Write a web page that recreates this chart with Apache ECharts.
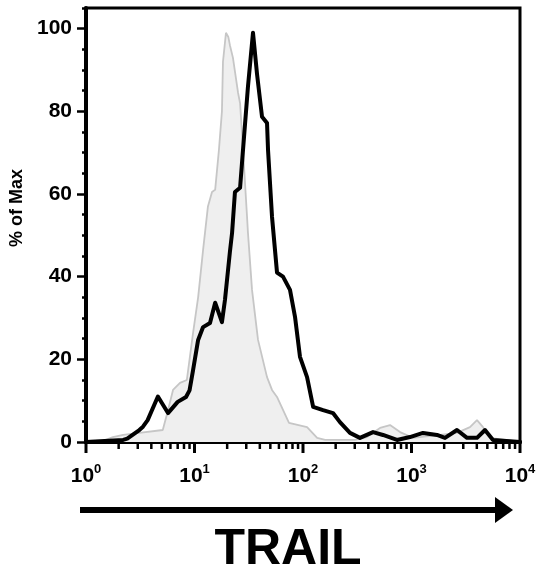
<!DOCTYPE html>
<html>
<head>
    <meta charset="utf-8">
    <title>TRAIL histogram</title>
    <script src="https://cdn.jsdelivr.net/npm/echarts@6/dist/echarts.min.js"></script>
    <style>
        html, body { margin: 0; padding: 0; background: #fff; }
    </style>
</head>
<body>
<div id="main" style="width: 544px;height:577px;"></div>
<script type="text/javascript">
    // fluorescence value, % of max
    var controlData = [
        [1, 0], [1.35, 0], [1.77, 1.2], [2.2, 1.7], [3.1, 2.2], [5.1, 2.9], [5.7, 7.7],
        [6.34, 12.6], [7.35, 14.3], [8.5, 15], [9.7, 26.4], [10.8, 35], [12, 46.5],
        [13.3, 57], [14.5, 60.5], [15.5, 61], [16.8, 70.7], [17.9, 80], [18.3, 92],
        [19.5, 99], [20.5, 98], [21.2, 96], [22.6, 93], [25.2, 84.5], [26.3, 82],
        [28, 70.7], [30.5, 54.5], [31.1, 50.6], [33.9, 36.8], [38.5, 24.7], [46.6, 15.7],
        [51.8, 12.6], [57.6, 10.9], [74.3, 4.6], [109, 3.6], [135, 1], [160, 0.5],
        [300, 0.5], [389, 1.2], [513, 3.4], [634, 4.1], [784, 2.4], [1032, 1],
        [1832, 1.7], [2625, 2.2], [3458, 3.6], [4015, 5.3], [4560, 3.6], [5290, 1], [10000, 0]
    ];
    var trailData = [
        [1, 0], [2.2, 0.5], [2.4, 0.8], [3.1, 2.9], [3.35, 3.7], [3.7, 5.3], [4.6, 11],
        [5.7, 7], [7, 9.7], [8.35, 10.9], [9, 12.5], [9.7, 17.4], [10.8, 24.7], [12, 27.8],
        [13.9, 28.8], [15.5, 33.7], [17.9, 29], [19.1, 34.4], [21.2, 46], [22.2, 50.6],
        [23.6, 60.5], [26.3, 61.5], [28, 70.7], [31.1, 86], [34.6, 99], [37.7, 89],
        [41.9, 78.7], [46.6, 77.2], [47.6, 70.7], [51.8, 54.5], [57.6, 41], [65.4, 40],
        [75.9, 36.8], [84.4, 30.3], [93.8, 20.6], [109, 15.7], [124, 8.5], [153, 7.7],
        [189, 7], [219, 4.8], [271, 2.2], [335, 1], [442, 2.4], [546, 1.7], [735, 0.5],
        [968, 1.2], [1276, 2.2], [1718, 1.7], [2036, 1], [2625, 2.9], [3250, 1],
        [4015, 1], [4755, 2.9], [5640, 0.5], [10000, 0]
    ];
    var xMajorTicks = [1, 10, 100, 1000, 10000];
    var xMinorTicks = [2, 3, 4, 5, 6, 7, 8, 9, 20, 30, 40, 50, 60, 70, 80, 90,
        200, 300, 400, 500, 600, 700, 800, 900, 2000, 3000, 4000, 5000, 6000, 7000, 8000, 9000];
    var yMajorTicks = [0, 20, 40, 60, 80, 100];
    var yMinorTicks = [5, 10, 15, 25, 30, 35, 45, 50, 55, 65, 70, 75, 85, 90, 95, 105];

    var font = '"Liberation Sans", Arial, sans-serif';
    var rect = { left: 86, top: 8, right: 24, bottom: 135 };
    var W = 544, H = 577;
    var chart = echarts.init(document.getElementById('main'));

    var decor = [{
        type: 'rect', shape: { x: 80, y: 507, width: 417, height: 6 },
        style: { fill: '#000' }
    }, {
        type: 'polygon', shape: { points: [[495, 497], [513, 510], [495, 523]] },
        style: { fill: '#000' }
    }, {
        type: 'text', x: 288, y: 550,
        style: {
            text: 'TRAIL', fill: '#000', font: 'bold 50px ' + font,
            textAlign: 'center', textVerticalAlign: 'middle'
        }
    }];

    chart.setOption({
        animation: false,
        grid: [
            Object.assign({ show: true, borderColor: '#000', borderWidth: 3 }, rect),
            Object.assign({}, rect)
        ],
        xAxis: [{
            gridIndex: 0,
            type: 'log', logBase: 10, min: 1, max: 10000, position: 'bottom',
            axisLine: { onZero: false, lineStyle: { color: '#000', width: 4 } },
            axisTick: { show: false },
            axisLabel: {
                customValues: xMajorTicks, margin: 21,
                formatter: function (v) {
                    return '{b|10}{s|' + Math.round(Math.log10(v)) + '}';
                },
                rich: {
                    b: { fontFamily: font, fontWeight: 'bold', fontSize: 21, color: '#000', lineHeight: 24, verticalAlign: 'bottom' },
                    s: { fontFamily: font, fontWeight: 'bold', fontSize: 13, color: '#000', lineHeight: 24, verticalAlign: 'top', padding: [0, 0, 12, 0] }
                }
            },
            splitLine: { show: false }
        }, {
            gridIndex: 1, type: 'value', min: 0, max: 4, show: false
        }],
        yAxis: [{
            gridIndex: 0,
            type: 'value', min: 0, max: 105,
            name: '% of Max', nameLocation: 'middle', nameGap: 58,
            nameTextStyle: { fontFamily: font, fontWeight: 'bold', fontSize: 18, color: '#000', padding: [0, 0, 0, 34] },
            axisLine: { show: true, lineStyle: { color: '#000', width: 4 } },
            axisTick: { customValues: yMajorTicks, length: 9, lineStyle: { color: '#000', width: 2.5 } },
            axisLabel: {
                customValues: yMajorTicks, margin: 14,
                fontFamily: font, fontWeight: 'bold', fontSize: 21, color: '#000'
            },
            splitLine: { show: false }
        }, {
            gridIndex: 1, type: 'value', min: 0, max: 105, position: 'left',
            axisLine: { show: false },
            axisTick: { show: true, customValues: yMinorTicks, length: 4, lineStyle: { color: '#000', width: 2.5 } },
            axisLabel: { show: false },
            splitLine: { show: false }
        }],
        series: [{
            name: 'control', type: 'line', data: controlData,
            xAxisIndex: 0, yAxisIndex: 0,
            symbol: 'none', smooth: false,
            lineStyle: { color: '#c6c6c6', width: 1.8 },
            areaStyle: { color: '#efefef', opacity: 1 },
            z: 2
        }, {
            name: 'TRAIL', type: 'line', data: trailData,
            xAxisIndex: 0, yAxisIndex: 0,
            symbol: 'none', smooth: false,
            lineStyle: { color: '#000', width: 4, join: 'round', cap: 'round' },
            z: 3
        }],
        graphic: decor
    });

    // x ticks under the log axis, drawn as thin filled rects
    // (position from the axis scale, grid rect as fallback)
    var axisY = chart.convertToPixel({ yAxisIndex: 0 }, 0);
    if (typeof axisY !== 'number' || !isFinite(axisY)) axisY = H - rect.bottom;
    function tickX(v) {
        var px = chart.convertToPixel({ xAxisIndex: 0 }, v);
        if (typeof px !== 'number' || !isFinite(px)) {
            px = rect.left + (W - rect.left - rect.right) * Math.log10(v) / 4;
        }
        return px;
    }
    function ticks(values, len, width) {
        return values.map(function (v) {
            var px = tickX(v);
            return {
                type: 'rect', z: 100,
                shape: { x: px - width / 2, y: axisY, width: width, height: len },
                style: { fill: '#000' }
            };
        });
    }
    chart.setOption({
        graphic: decor.concat(ticks(xMajorTicks, 11, 3), ticks(xMinorTicks, 7, 2.5))
    });
</script>
</body>
</html>
